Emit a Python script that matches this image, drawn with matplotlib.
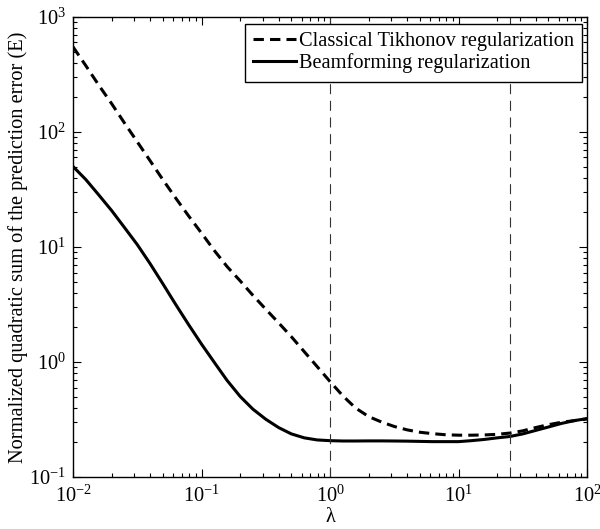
import matplotlib
matplotlib.use('Agg')
import matplotlib.pyplot as plt
import numpy as np

plt.rcParams['font.family'] = ['Liberation Serif', 'DejaVu Serif']
plt.rcParams['mathtext.fontset'] = 'custom'
plt.rcParams['mathtext.rm'] = 'Liberation Serif'
plt.rcParams['mathtext.it'] = 'Liberation Serif:italic'
plt.rcParams['font.size'] = 14.7

# regularization parameter (lambda)
lam = [0.01, 0.0126, 0.0158, 0.02, 0.0251, 0.0316, 0.0398, 0.05, 0.063, 0.0794,
       0.1, 0.126, 0.158, 0.2, 0.251, 0.316, 0.398, 0.5, 0.63, 0.794,
       1, 1.26, 1.58, 2, 2.51, 3.16, 3.98, 5, 6.3, 7.94,
       10, 12.6, 15.8, 20, 25.1, 31.6, 39.8, 50, 63, 79.4, 100]
# normalized quadratic sum of prediction error
tikhonov = [550, 376, 257, 176, 120, 82.2, 56.2, 38.5, 26.6, 18.6,
            13.2, 9.29, 6.76, 5.07, 3.80, 2.88, 2.19, 1.66, 1.23, 0.912,
            0.676, 0.507, 0.398, 0.335, 0.301, 0.275, 0.257, 0.245, 0.238, 0.233,
            0.231, 0.231, 0.232, 0.235, 0.241, 0.252, 0.269, 0.285, 0.299, 0.309, 0.320]
beamforming = [50.1, 38.5, 28.5, 20.7, 14.8, 10.5, 7.16, 4.79, 3.16, 2.11,
               1.43, 0.989, 0.692, 0.501, 0.389, 0.318, 0.269, 0.237, 0.219, 0.210,
               0.207, 0.2056, 0.2056, 0.206, 0.206, 0.2056, 0.205, 0.204, 0.203, 0.203,
               0.203, 0.207, 0.212, 0.219, 0.225, 0.237, 0.254, 0.272, 0.292, 0.309, 0.322]
vlines = [1, 25]

fig = plt.figure(figsize=(6, 5.29), dpi=100)
ax = fig.add_axes([0.1217, 0.0983, 0.8567, 0.8696])

ax.plot(lam, tikhonov, 'k', ls=(0, (3.4, 2.0)), lw=2.2, label='Classical Tikhonov regularization')
ax.plot(lam, beamforming, 'k-', lw=2.2, label='Beamforming regularization')
for v in vlines:
    ax.axvline(v, color='0.2', ls=(0, (9, 6)), lw=0.8)

ax.set_xscale('log')
ax.set_yscale('log')
ax.set_xlim(1e-2, 1e2)
ax.set_ylim(1e-1, 1e3)

ax.tick_params(which='both', direction='in', top=True, right=True, width=0.8)
ax.tick_params(which='major', length=6)
ax.tick_params(axis='y', which='major', pad=5)
ax.tick_params(axis='x', which='major', pad=6)
ax.tick_params(which='minor', length=3)
for s in ax.spines.values():
    s.set_linewidth(1.0)

ax.set_xlabel('λ', labelpad=1)
ax.set_ylabel('Normalized quadratic sum of the prediction error (E)', labelpad=1)

leg = ax.legend(loc='upper right', bbox_to_anchor=(0.9903, 0.9848), borderaxespad=0,
                fancybox=False, framealpha=1, edgecolor='k',
                handlelength=2.1, handletextpad=0.15,
                borderpad=0.4, labelspacing=0.1)
leg.get_frame().set_linewidth(1.0)

fig.savefig('out.png', dpi=100)
